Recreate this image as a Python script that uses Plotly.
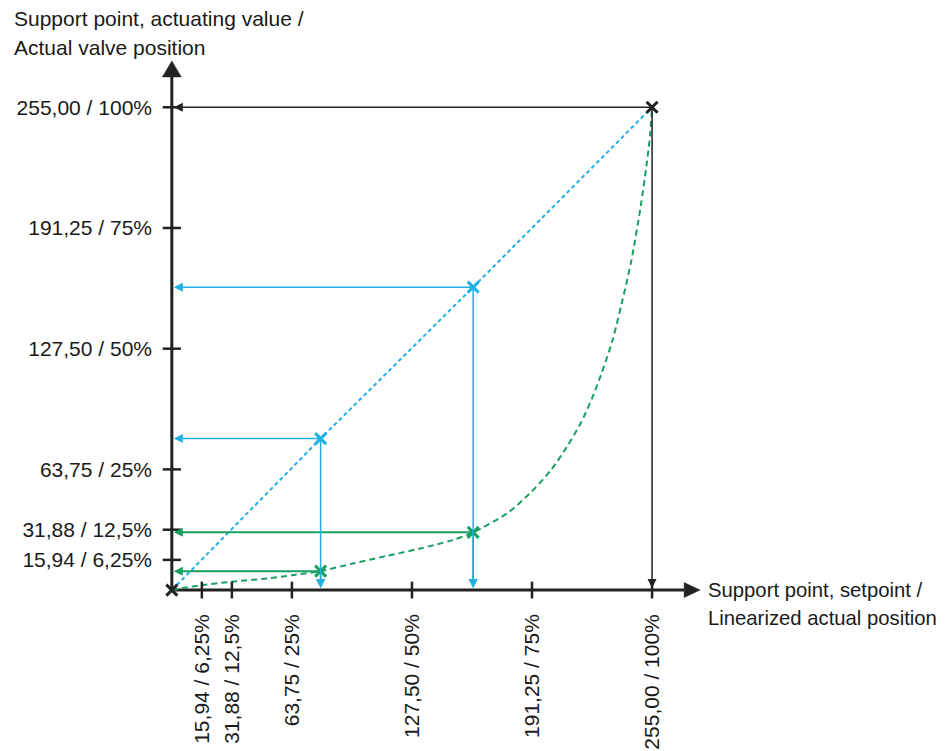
import plotly.graph_objects as go

# ---------------- data ----------------
tick_vals = [15.94, 31.88, 63.75, 127.5, 191.25, 255.0]
x_tick_text = ["15,94 / 6,25%", "31,88 / 12,5%", "63,75 / 25%",
               "127,50 / 50%", "191,25 / 75%", "255,00 / 100%"]
y_tick_vals = [15.94, 31.88, 63.75, 127.5, 191.25, 255.0]
y_tick_text = ["15,94 / 6,25%", "31,88 / 12,5%", "63,75 / 25%",
               "127,50 / 50%", "191,25 / 75%", "255,00 / 100%"]

# linear characteristic (blue)
blue_x = [0, 79, 160, 255]
blue_y = [0, 80, 160, 255]
blue_pts_x = [79, 160]
blue_pts_y = [80, 160]

# equal-percentage characteristic (green)
green_x = [0, 15, 33, 51, 65, 79, 96, 114, 132, 149, 160, 178, 190, 201,
           210, 217, 223, 228, 234, 239, 244, 249, 252, 254, 255]
green_y = [0, 2.5, 4.5, 6.2, 8, 10, 14, 18, 22, 26.4, 30.5, 40.5, 51, 63,
           76, 88, 101, 114, 132, 152, 174, 203, 224, 241, 255]
green_pts_x = [79, 160]
green_pts_y = [10, 30.5]

end_pts_x = [0, 255]
end_pts_y = [0, 255]

# ---------------- style ----------------
DARK = "#222222"
BLUE = "#1fb0e6"
GREEN = "#17a061"
FONT = "Liberation Sans"
FS = 21

OFF = 8  # page body margin of the html page
W, H = 949 - OFF, 751 - OFF
XR = [-10, 290]
YR = [-10, 290]
sx = 480 / 255.0
sy = 483 / 255.0
X0 = 172 - OFF
Y0 = 590 - OFF
L = X0 - (0 - XR[0]) * sx
PW = (XR[1] - XR[0]) * sx
R = W - L - PW
PB = Y0 + (0 - YR[0]) * sy
PH = (YR[1] - YR[0]) * sy
T = PB - PH
B = H - PB


def px2paper(px, py):
    px -= OFF
    py -= OFF
    return (px - L) / PW, (PB - py) / PH


fig = go.Figure()

# dashed characteristics
fig.add_trace(go.Scatter(x=blue_x, y=blue_y, mode="lines",
                         line=dict(color=BLUE, width=2, dash="4px,3px"),
                         hoverinfo="skip", showlegend=False))
fig.add_trace(go.Scatter(x=green_x, y=green_y, mode="lines",
                         line=dict(color=GREEN, width=2, dash="6px,4px",
                                   shape="spline", smoothing=0.8),
                         hoverinfo="skip", showlegend=False))

# axis lines
ax_end_x = 272
ax_end_y = 271
fig.add_shape(type="line", x0=0, y0=0, x1=ax_end_x, y1=0,
              line=dict(color=DARK, width=3), layer="below")
fig.add_shape(type="line", x0=0, y0=0, x1=0, y1=ax_end_y,
              line=dict(color=DARK, width=3), layer="below")
# arrow heads of axes
hx = 9.5 / sx
hy = 16 / sy
fig.add_shape(type="path",
              path=f"M {-hx},{ax_end_y} L {hx},{ax_end_y} L 0,{ax_end_y + hy} Z",
              fillcolor=DARK, line=dict(color=DARK, width=0.5))
hx2 = 16 / sx
hy2 = 7.5 / sy
fig.add_shape(type="path",
              path=f"M {ax_end_x},{-hy2} L {ax_end_x},{hy2} L {ax_end_x + hx2},0 Z",
              fillcolor=DARK, line=dict(color=DARK, width=0.5))

# tick marks crossing the axes
fig.add_trace(go.Scatter(x=tick_vals, y=[0] * len(tick_vals), mode="markers",
                         marker=dict(symbol="line-ns", size=12,
                                     line=dict(color=DARK, width=2.5)),
                         cliponaxis=False, hoverinfo="skip", showlegend=False))
fig.add_trace(go.Scatter(x=[0] * len(y_tick_vals), y=y_tick_vals, mode="markers",
                         marker=dict(symbol="line-ew", size=13,
                                     line=dict(color=DARK, width=2.5)),
                         cliponaxis=False, hoverinfo="skip", showlegend=False))


def arrow(x_tip, y_tip, x_tail, y_tail, color, width=1.5, size=1.2):
    fig.add_annotation(x=x_tip, y=y_tip, ax=x_tail, ay=y_tail,
                       xref="x", yref="y", axref="x", ayref="y",
                       text="", showarrow=True, arrowhead=2, arrowsize=size,
                       arrowwidth=width, arrowcolor=color, standoff=2)


# green projections
for gx, gy in zip(green_pts_x, green_pts_y):
    arrow(0, gy, gx, gy, GREEN, 2, 0.9)
    arrow(gx, 0, gx, gy, GREEN, 1.5)
# blue projections
for bx, by in zip(blue_pts_x, blue_pts_y):
    arrow(0, by, bx, by, BLUE, 1.5)
    arrow(bx, 0, bx, by, BLUE, 1.5)
# black projections of 100 % point
arrow(0, end_pts_y[1], end_pts_x[1], end_pts_y[1], DARK, 1.5)
arrow(end_pts_x[1], 0, end_pts_x[1], end_pts_y[1], DARK, 1.5)

# support point markers
fig.add_trace(go.Scatter(x=blue_pts_x, y=blue_pts_y, mode="markers",
                         marker=dict(symbol="x-thin", size=11,
                                     line=dict(color=BLUE, width=3)),
                         cliponaxis=False, hoverinfo="skip", showlegend=False))
fig.add_trace(go.Scatter(x=green_pts_x, y=green_pts_y, mode="markers",
                         marker=dict(symbol="x-thin", size=11,
                                     line=dict(color=GREEN, width=3)),
                         cliponaxis=False, hoverinfo="skip", showlegend=False))
fig.add_trace(go.Scatter(x=end_pts_x, y=end_pts_y, mode="markers",
                         marker=dict(symbol="x-thin", size=11,
                                     line=dict(color=DARK, width=3)),
                         cliponaxis=False, hoverinfo="skip", showlegend=False))

# axis titles
for txt, px, py, fs in [("Support point, actuating value /", 12, 18, 21),
                        ("Actual valve position", 12, 47, 21),
                        ("Support point, setpoint /", 706, 590, 20.3),
                        ("Linearized actual position", 706, 618, 20.3)]:
    xp, yp = px2paper(px, py)
    fig.add_annotation(x=xp, y=yp, xref="paper", yref="paper", text=txt,
                       showarrow=False, xanchor="left", yanchor="middle",
                       font=dict(family=FONT, size=fs, color="#1a1a1a"))

fig.update_layout(
    width=W, height=H,
    margin=dict(l=L, r=R, t=T, b=B, pad=0),
    paper_bgcolor="white", plot_bgcolor="white",
    font=dict(family=FONT, size=FS, color="#1a1a1a"),
    xaxis=dict(range=XR, showgrid=False, zeroline=False, showline=False,
               automargin=False,
               tickmode="array", tickvals=tick_vals, ticktext=x_tick_text,
               tickangle=-90, ticks="", fixedrange=True),
    yaxis=dict(range=YR, showgrid=False, zeroline=False, showline=False,
               automargin=False,
               tickmode="array", tickvals=y_tick_vals, ticktext=y_tick_text,
               ticks="", fixedrange=True),
    showlegend=False,
)

fig.write_html("out.html")
